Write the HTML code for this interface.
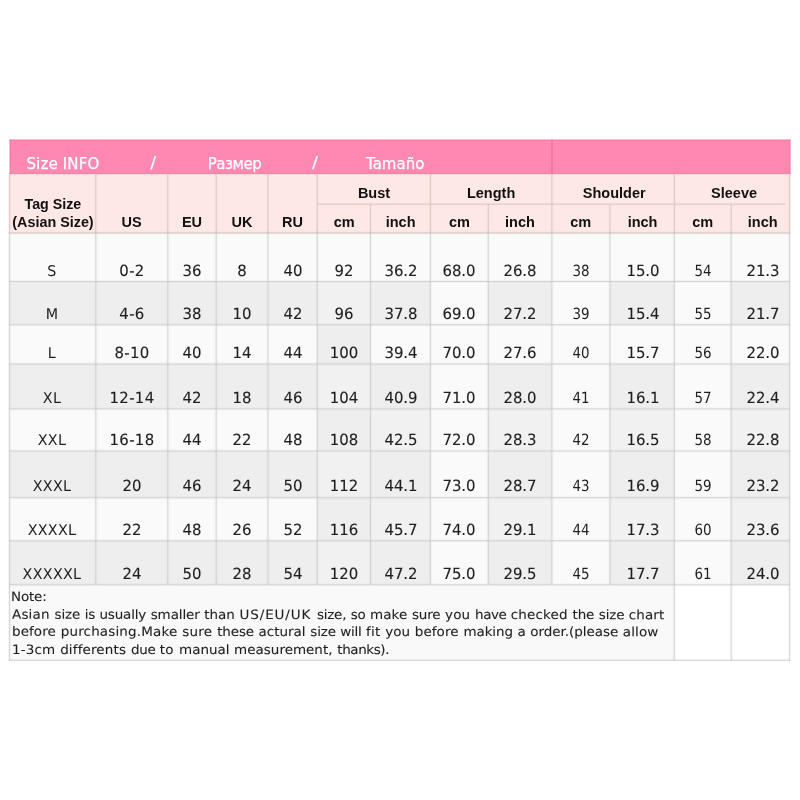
<!DOCTYPE html>
<html lang="en"><head><meta charset="utf-8"><title>Size INFO</title><style>
html,body{margin:0;padding:0;background:#fff}
#p{position:relative;width:800px;height:800px;overflow:hidden;background:#fff}
#g{position:absolute;left:0;top:0;width:800px;height:800px;display:block}
.t{position:absolute;margin-top:-0.346em;transform-origin:50% 0.346em;width:200px;text-align:center;white-space:nowrap;line-height:0;height:0;color:#222}
.t.l{width:auto;text-align:left;white-space:pre}
.h{font-family:"Liberation Sans",sans-serif;font-weight:bold;font-size:14.5px;color:#111}
.d{font-family:"DejaVu Sans","Liberation Sans",sans-serif;font-size:14.9px;color:#1e1e1e;-webkit-text-stroke:0.12px #1e1e1e;transform:rotate(0.03deg) scaleY(1.035)}
.d0{font-size:14.3px;letter-spacing:0.3px;-webkit-text-stroke:0}
.dc{font-family:"DejaVu Sans Condensed","DejaVu Sans","Liberation Sans",sans-serif;font-stretch:condensed;-webkit-text-stroke:0}
.n{font-family:"DejaVu Sans","Liberation Sans",sans-serif;font-size:13.5px;word-spacing:0.46px;color:#1e1e1e;-webkit-text-stroke:0.1px #1e1e1e;transform:rotate(0.03deg) scaleY(0.95)}
.ti{font-family:"DejaVu Sans","Liberation Sans",sans-serif;font-size:15px;color:#fff;-webkit-text-stroke:0.25px #fff}
</style></head><body><div id="p">
<svg id="g" width="800" height="800" viewBox="0 0 800 800">
<rect x="9.10" y="173.15" width="781.00" height="59.85" fill="#fee8e5"/>
<rect x="9.45" y="139.45" width="781.10" height="34.70" fill="#ff88b2"/>
<rect x="9.10" y="233.00" width="781.00" height="351.80" fill="#f1f1f1"/>
<rect x="9.10" y="584.30" width="665.20" height="76.00" fill="#f9f9f9"/>
<rect x="9.45" y="233.00" width="780.15" height="48.50" fill="#fafafa"/>
<rect x="9.45" y="281.50" width="307.80" height="43.25" fill="#eeeeee"/>
<rect x="317.25" y="281.50" width="53.25" height="43.25" fill="#f1f1f1"/>
<rect x="370.50" y="281.50" width="59.90" height="43.25" fill="#eeeeee"/>
<rect x="430.40" y="281.50" width="57.85" height="43.25" fill="#fafafa"/>
<rect x="488.25" y="281.50" width="63.65" height="43.25" fill="#eeeeee"/>
<rect x="551.90" y="281.50" width="58.00" height="43.25" fill="#fafafa"/>
<rect x="609.90" y="281.50" width="64.40" height="43.25" fill="#eeeeee"/>
<rect x="674.30" y="281.50" width="56.90" height="43.25" fill="#fafafa"/>
<rect x="731.20" y="281.50" width="58.40" height="43.25" fill="#eeeeee"/>
<rect x="9.45" y="324.75" width="307.80" height="39.30" fill="#fafafa"/>
<rect x="317.25" y="324.75" width="53.25" height="39.30" fill="#eeeeee"/>
<rect x="370.50" y="324.75" width="419.10" height="39.30" fill="#fafafa"/>
<rect x="9.45" y="364.05" width="307.80" height="44.85" fill="#eeeeee"/>
<rect x="317.25" y="364.05" width="53.25" height="44.85" fill="#f1f1f1"/>
<rect x="370.50" y="364.05" width="59.90" height="44.85" fill="#eeeeee"/>
<rect x="430.40" y="364.05" width="57.85" height="44.85" fill="#fafafa"/>
<rect x="488.25" y="364.05" width="63.65" height="44.85" fill="#eeeeee"/>
<rect x="551.90" y="364.05" width="58.00" height="44.85" fill="#fafafa"/>
<rect x="609.90" y="364.05" width="64.40" height="44.85" fill="#eeeeee"/>
<rect x="674.30" y="364.05" width="56.90" height="44.85" fill="#fafafa"/>
<rect x="731.20" y="364.05" width="58.40" height="44.85" fill="#eeeeee"/>
<rect x="9.45" y="408.90" width="307.80" height="42.10" fill="#fafafa"/>
<rect x="317.25" y="408.90" width="53.25" height="42.10" fill="#eeeeee"/>
<rect x="370.50" y="408.90" width="59.90" height="42.10" fill="#f1f1f1"/>
<rect x="430.40" y="408.90" width="57.85" height="42.10" fill="#fafafa"/>
<rect x="488.25" y="408.90" width="63.65" height="42.10" fill="#f1f1f1"/>
<rect x="551.90" y="408.90" width="58.00" height="42.10" fill="#fafafa"/>
<rect x="609.90" y="408.90" width="64.40" height="42.10" fill="#f1f1f1"/>
<rect x="674.30" y="408.90" width="56.90" height="42.10" fill="#fafafa"/>
<rect x="731.20" y="408.90" width="58.40" height="42.10" fill="#f1f1f1"/>
<rect x="9.45" y="451.00" width="307.80" height="46.70" fill="#eeeeee"/>
<rect x="317.25" y="451.00" width="53.25" height="46.70" fill="#f1f1f1"/>
<rect x="370.50" y="451.00" width="59.90" height="46.70" fill="#eeeeee"/>
<rect x="430.40" y="451.00" width="57.85" height="46.70" fill="#fafafa"/>
<rect x="488.25" y="451.00" width="63.65" height="46.70" fill="#eeeeee"/>
<rect x="551.90" y="451.00" width="58.00" height="46.70" fill="#fafafa"/>
<rect x="609.90" y="451.00" width="64.40" height="46.70" fill="#eeeeee"/>
<rect x="674.30" y="451.00" width="56.90" height="46.70" fill="#fafafa"/>
<rect x="731.20" y="451.00" width="58.40" height="46.70" fill="#eeeeee"/>
<rect x="9.45" y="497.70" width="307.80" height="43.05" fill="#fafafa"/>
<rect x="317.25" y="497.70" width="53.25" height="43.05" fill="#eeeeee"/>
<rect x="370.50" y="497.70" width="59.90" height="43.05" fill="#f1f1f1"/>
<rect x="430.40" y="497.70" width="57.85" height="43.05" fill="#fafafa"/>
<rect x="488.25" y="497.70" width="63.65" height="43.05" fill="#f1f1f1"/>
<rect x="551.90" y="497.70" width="58.00" height="43.05" fill="#fafafa"/>
<rect x="609.90" y="497.70" width="64.40" height="43.05" fill="#f1f1f1"/>
<rect x="674.30" y="497.70" width="56.90" height="43.05" fill="#fafafa"/>
<rect x="731.20" y="497.70" width="58.40" height="43.05" fill="#f1f1f1"/>
<rect x="9.45" y="540.75" width="307.80" height="44.05" fill="#eeeeee"/>
<rect x="317.25" y="540.75" width="53.25" height="44.05" fill="#f1f1f1"/>
<rect x="370.50" y="540.75" width="59.90" height="44.05" fill="#eeeeee"/>
<rect x="430.40" y="540.75" width="57.85" height="44.05" fill="#fafafa"/>
<rect x="488.25" y="540.75" width="63.65" height="44.05" fill="#eeeeee"/>
<rect x="551.90" y="540.75" width="58.00" height="44.05" fill="#fafafa"/>
<rect x="609.90" y="540.75" width="64.40" height="44.05" fill="#eeeeee"/>
<rect x="674.30" y="540.75" width="56.90" height="44.05" fill="#fafafa"/>
<rect x="731.20" y="540.75" width="58.40" height="44.05" fill="#eeeeee"/>
<rect x="94.30" y="174.15" width="3.00" height="58.85" fill="#d4bfbb" fill-opacity="0.12"/>
<rect x="95.30" y="174.15" width="1.00" height="58.85" fill="#d4bfbb" fill-opacity="0.73"/>
<rect x="166.30" y="174.15" width="3.00" height="58.85" fill="#d4bfbb" fill-opacity="0.12"/>
<rect x="167.30" y="174.15" width="1.00" height="58.85" fill="#d4bfbb" fill-opacity="0.73"/>
<rect x="214.70" y="174.15" width="3.00" height="58.85" fill="#d4bfbb" fill-opacity="0.12"/>
<rect x="215.70" y="174.15" width="1.00" height="58.85" fill="#d4bfbb" fill-opacity="0.73"/>
<rect x="266.40" y="174.15" width="3.00" height="58.85" fill="#d4bfbb" fill-opacity="0.12"/>
<rect x="267.40" y="174.15" width="1.00" height="58.85" fill="#d4bfbb" fill-opacity="0.73"/>
<rect x="315.75" y="174.15" width="3.00" height="58.85" fill="#d4bfbb" fill-opacity="0.12"/>
<rect x="316.75" y="174.15" width="1.00" height="58.85" fill="#d4bfbb" fill-opacity="0.73"/>
<rect x="369.00" y="204.20" width="3.00" height="28.80" fill="#d4bfbb" fill-opacity="0.12"/>
<rect x="370.00" y="204.20" width="1.00" height="28.80" fill="#d4bfbb" fill-opacity="0.73"/>
<rect x="428.90" y="174.15" width="3.00" height="58.85" fill="#d4bfbb" fill-opacity="0.12"/>
<rect x="429.90" y="174.15" width="1.00" height="58.85" fill="#d4bfbb" fill-opacity="0.73"/>
<rect x="486.75" y="204.20" width="3.00" height="28.80" fill="#d4bfbb" fill-opacity="0.12"/>
<rect x="487.75" y="204.20" width="1.00" height="28.80" fill="#d4bfbb" fill-opacity="0.73"/>
<rect x="550.40" y="174.15" width="3.00" height="58.85" fill="#d4bfbb" fill-opacity="0.12"/>
<rect x="551.40" y="174.15" width="1.00" height="58.85" fill="#d4bfbb" fill-opacity="0.73"/>
<rect x="608.40" y="204.20" width="3.00" height="28.80" fill="#d4bfbb" fill-opacity="0.12"/>
<rect x="609.40" y="204.20" width="1.00" height="28.80" fill="#d4bfbb" fill-opacity="0.73"/>
<rect x="672.80" y="174.15" width="3.00" height="58.85" fill="#d4bfbb" fill-opacity="0.12"/>
<rect x="673.80" y="174.15" width="1.00" height="58.85" fill="#d4bfbb" fill-opacity="0.73"/>
<rect x="729.70" y="204.20" width="3.00" height="28.80" fill="#d4bfbb" fill-opacity="0.12"/>
<rect x="730.70" y="204.20" width="1.00" height="28.80" fill="#d4bfbb" fill-opacity="0.73"/>
<rect x="317.25" y="202.70" width="468.25" height="3.00" fill="#d4bfbb" fill-opacity="0.12"/>
<rect x="317.25" y="203.70" width="468.25" height="1.00" fill="#d4bfbb" fill-opacity="0.73"/>
<rect x="551.50" y="139.45" width="1.00" height="34.70" fill="#d96894"/>
<rect x="9.45" y="140.00" width="781.10" height="1.00" fill="#ff78a8"/>
<rect x="10.00" y="139.45" width="1.00" height="34.70" fill="#ff78a8"/>
<rect x="789.10" y="139.45" width="1.00" height="34.70" fill="#ff78a8"/>
<rect x="9.45" y="172.90" width="781.10" height="1.00" fill="#e58aa6"/>
<rect x="7.95" y="174.15" width="3.00" height="58.85" fill="#d4bfbb" fill-opacity="0.12"/>
<rect x="8.95" y="174.15" width="1.00" height="58.85" fill="#d4bfbb" fill-opacity="0.73"/>
<rect x="788.10" y="174.15" width="3.00" height="58.85" fill="#d4bfbb" fill-opacity="0.12"/>
<rect x="789.10" y="174.15" width="1.00" height="58.85" fill="#d4bfbb" fill-opacity="0.73"/>
<rect x="7.95" y="233.00" width="3.00" height="351.80" fill="#c9c9c9" fill-opacity="0.12"/>
<rect x="8.95" y="233.00" width="1.00" height="351.80" fill="#c9c9c9" fill-opacity="0.73"/>
<rect x="94.30" y="233.00" width="3.00" height="351.80" fill="#c9c9c9" fill-opacity="0.12"/>
<rect x="95.30" y="233.00" width="1.00" height="351.80" fill="#c9c9c9" fill-opacity="0.73"/>
<rect x="166.30" y="233.00" width="3.00" height="351.80" fill="#c9c9c9" fill-opacity="0.12"/>
<rect x="167.30" y="233.00" width="1.00" height="351.80" fill="#c9c9c9" fill-opacity="0.73"/>
<rect x="214.70" y="233.00" width="3.00" height="351.80" fill="#c9c9c9" fill-opacity="0.12"/>
<rect x="215.70" y="233.00" width="1.00" height="351.80" fill="#c9c9c9" fill-opacity="0.73"/>
<rect x="266.40" y="233.00" width="3.00" height="351.80" fill="#c9c9c9" fill-opacity="0.12"/>
<rect x="267.40" y="233.00" width="1.00" height="351.80" fill="#c9c9c9" fill-opacity="0.73"/>
<rect x="315.75" y="233.00" width="3.00" height="351.80" fill="#c9c9c9" fill-opacity="0.12"/>
<rect x="316.75" y="233.00" width="1.00" height="351.80" fill="#c9c9c9" fill-opacity="0.73"/>
<rect x="369.00" y="233.00" width="3.00" height="351.80" fill="#c9c9c9" fill-opacity="0.12"/>
<rect x="370.00" y="233.00" width="1.00" height="351.80" fill="#c9c9c9" fill-opacity="0.73"/>
<rect x="428.90" y="233.00" width="3.00" height="351.80" fill="#c9c9c9" fill-opacity="0.12"/>
<rect x="429.90" y="233.00" width="1.00" height="351.80" fill="#c9c9c9" fill-opacity="0.73"/>
<rect x="486.75" y="233.00" width="3.00" height="351.80" fill="#c9c9c9" fill-opacity="0.12"/>
<rect x="487.75" y="233.00" width="1.00" height="351.80" fill="#c9c9c9" fill-opacity="0.73"/>
<rect x="550.40" y="233.00" width="3.00" height="351.80" fill="#c9c9c9" fill-opacity="0.12"/>
<rect x="551.40" y="233.00" width="1.00" height="351.80" fill="#c9c9c9" fill-opacity="0.73"/>
<rect x="608.40" y="233.00" width="3.00" height="351.80" fill="#c9c9c9" fill-opacity="0.12"/>
<rect x="609.40" y="233.00" width="1.00" height="351.80" fill="#c9c9c9" fill-opacity="0.73"/>
<rect x="672.80" y="233.00" width="3.00" height="351.80" fill="#c9c9c9" fill-opacity="0.12"/>
<rect x="673.80" y="233.00" width="1.00" height="351.80" fill="#c9c9c9" fill-opacity="0.73"/>
<rect x="729.70" y="233.00" width="3.00" height="351.80" fill="#c9c9c9" fill-opacity="0.12"/>
<rect x="730.70" y="233.00" width="1.00" height="351.80" fill="#c9c9c9" fill-opacity="0.73"/>
<rect x="788.10" y="233.00" width="3.00" height="351.80" fill="#c9c9c9" fill-opacity="0.12"/>
<rect x="789.10" y="233.00" width="1.00" height="351.80" fill="#c9c9c9" fill-opacity="0.73"/>
<rect x="8.95" y="280.00" width="781.15" height="3.00" fill="#c9c9c9" fill-opacity="0.12"/>
<rect x="8.95" y="281.00" width="781.15" height="1.00" fill="#c9c9c9" fill-opacity="0.73"/>
<rect x="8.95" y="323.25" width="781.15" height="3.00" fill="#c9c9c9" fill-opacity="0.12"/>
<rect x="8.95" y="324.25" width="781.15" height="1.00" fill="#c9c9c9" fill-opacity="0.73"/>
<rect x="8.95" y="362.55" width="781.15" height="3.00" fill="#c9c9c9" fill-opacity="0.12"/>
<rect x="8.95" y="363.55" width="781.15" height="1.00" fill="#c9c9c9" fill-opacity="0.73"/>
<rect x="8.95" y="407.40" width="781.15" height="3.00" fill="#c9c9c9" fill-opacity="0.12"/>
<rect x="8.95" y="408.40" width="781.15" height="1.00" fill="#c9c9c9" fill-opacity="0.73"/>
<rect x="8.95" y="449.50" width="781.15" height="3.00" fill="#c9c9c9" fill-opacity="0.12"/>
<rect x="8.95" y="450.50" width="781.15" height="1.00" fill="#c9c9c9" fill-opacity="0.73"/>
<rect x="8.95" y="496.20" width="781.15" height="3.00" fill="#c9c9c9" fill-opacity="0.12"/>
<rect x="8.95" y="497.20" width="781.15" height="1.00" fill="#c9c9c9" fill-opacity="0.73"/>
<rect x="8.95" y="539.25" width="781.15" height="3.00" fill="#c9c9c9" fill-opacity="0.12"/>
<rect x="8.95" y="540.25" width="781.15" height="1.00" fill="#c9c9c9" fill-opacity="0.73"/>
<rect x="8.95" y="583.30" width="781.15" height="3.00" fill="#c9c9c9" fill-opacity="0.12"/>
<rect x="8.95" y="584.30" width="781.15" height="1.00" fill="#c9c9c9" fill-opacity="0.73"/>
<rect x="8.95" y="231.50" width="781.15" height="3.00" fill="#c4b5b3" fill-opacity="0.12"/>
<rect x="8.95" y="232.50" width="781.15" height="1.00" fill="#c4b5b3" fill-opacity="0.73"/>
<rect x="7.95" y="584.80" width="3.00" height="76.00" fill="#c9c9c9" fill-opacity="0.12"/>
<rect x="8.95" y="584.80" width="1.00" height="76.00" fill="#c9c9c9" fill-opacity="0.73"/>
<rect x="672.80" y="584.80" width="3.00" height="76.00" fill="#c9c9c9" fill-opacity="0.12"/>
<rect x="673.80" y="584.80" width="1.00" height="76.00" fill="#c9c9c9" fill-opacity="0.73"/>
<rect x="729.70" y="584.80" width="3.00" height="76.00" fill="#c9c9c9" fill-opacity="0.12"/>
<rect x="730.70" y="584.80" width="1.00" height="76.00" fill="#c9c9c9" fill-opacity="0.73"/>
<rect x="788.10" y="584.80" width="3.00" height="76.00" fill="#c9c9c9" fill-opacity="0.12"/>
<rect x="789.10" y="584.80" width="1.00" height="76.00" fill="#c9c9c9" fill-opacity="0.73"/>
<rect x="8.95" y="658.80" width="781.15" height="3.00" fill="#c9c9c9" fill-opacity="0.12"/>
<rect x="8.95" y="659.80" width="781.15" height="1.00" fill="#c9c9c9" fill-opacity="0.73"/>
</svg>
<div class="t l ti" style="left:26.40px;top:168.70px;letter-spacing:0.15px">Size INFO</div>
<div class="t l ti" style="left:150.60px;top:168.90px;font-size:16.5px">/</div>
<div class="t l ti" style="left:207.70px;top:168.70px;letter-spacing:-0.45px">Размер</div>
<div class="t l ti" style="left:312.20px;top:168.90px;font-size:16.5px">/</div>
<div class="t l ti" style="left:366.00px;top:168.70px;">Tamaño</div>
<div class="t h" style="left:-47.10px;top:209.10px;font-size:14.25px">Tag Size</div>
<div class="t h" style="left:-47.00px;top:226.70px;font-size:14.35px">(Asian Size)</div>
<div class="t h" style="left:31.50px;top:226.70px;">US</div>
<div class="t h" style="left:92.00px;top:226.70px;">EU</div>
<div class="t h" style="left:142.00px;top:226.70px;">UK</div>
<div class="t h" style="left:192.50px;top:226.70px;">RU</div>
<div class="t h" style="left:274.00px;top:197.80px;">Bust</div>
<div class="t h" style="left:391.12px;top:197.80px;">Length</div>
<div class="t h" style="left:514.20px;top:197.80px;">Shoulder</div>
<div class="t h" style="left:634.08px;top:197.80px;">Sleeve</div>
<div class="t h" style="left:244.12px;top:226.70px;">cm</div>
<div class="t h" style="left:300.62px;top:226.70px;">inch</div>
<div class="t h" style="left:359.38px;top:226.70px;">cm</div>
<div class="t h" style="left:420.00px;top:226.70px;">inch</div>
<div class="t h" style="left:480.62px;top:226.70px;">cm</div>
<div class="t h" style="left:542.58px;top:226.70px;">inch</div>
<div class="t h" style="left:602.75px;top:226.70px;">cm</div>
<div class="t h" style="left:662.67px;top:226.70px;">inch</div>
<div class="t d d0" style="left:-48.30px;top:276.00px;">S</div>
<div class="t d" style="left:31.80px;top:276.40px;letter-spacing:0.35px">0-2</div>
<div class="t d" style="left:92.00px;top:276.40px;">36</div>
<div class="t d" style="left:142.00px;top:276.40px;">8</div>
<div class="t d" style="left:192.50px;top:276.40px;">40</div>
<div class="t d" style="left:244.12px;top:276.40px;">92</div>
<div class="t d" style="left:300.62px;top:276.40px;">36.2</div>
<div class="t d" style="left:359.38px;top:276.40px;">68.0</div>
<div class="t d" style="left:420.00px;top:276.40px;">26.8</div>
<div class="t d dc" style="left:480.62px;top:276.40px;">38</div>
<div class="t d" style="left:542.58px;top:276.40px;">15.0</div>
<div class="t d dc" style="left:602.75px;top:276.40px;">54</div>
<div class="t d" style="left:662.67px;top:276.40px;">21.3</div>
<div class="t d d0" style="left:-48.30px;top:318.90px;">M</div>
<div class="t d" style="left:31.80px;top:319.30px;letter-spacing:0.35px">4-6</div>
<div class="t d" style="left:92.00px;top:319.30px;">38</div>
<div class="t d" style="left:142.00px;top:319.30px;">10</div>
<div class="t d" style="left:192.50px;top:319.30px;">42</div>
<div class="t d" style="left:244.12px;top:319.30px;">96</div>
<div class="t d" style="left:300.62px;top:319.30px;">37.8</div>
<div class="t d" style="left:359.38px;top:319.30px;">69.0</div>
<div class="t d" style="left:420.00px;top:319.30px;">27.2</div>
<div class="t d dc" style="left:480.62px;top:319.30px;">39</div>
<div class="t d" style="left:542.58px;top:319.30px;">15.4</div>
<div class="t d dc" style="left:602.75px;top:319.30px;">55</div>
<div class="t d" style="left:662.67px;top:319.30px;">21.7</div>
<div class="t d d0" style="left:-48.30px;top:358.20px;">L</div>
<div class="t d" style="left:31.80px;top:358.60px;letter-spacing:0.35px">8-10</div>
<div class="t d" style="left:92.00px;top:358.60px;">40</div>
<div class="t d" style="left:142.00px;top:358.60px;">14</div>
<div class="t d" style="left:192.50px;top:358.60px;">44</div>
<div class="t d" style="left:244.12px;top:358.60px;">100</div>
<div class="t d" style="left:300.62px;top:358.60px;">39.4</div>
<div class="t d" style="left:359.38px;top:358.60px;">70.0</div>
<div class="t d" style="left:420.00px;top:358.60px;">27.6</div>
<div class="t d dc" style="left:480.62px;top:358.60px;">40</div>
<div class="t d" style="left:542.58px;top:358.60px;">15.7</div>
<div class="t d dc" style="left:602.75px;top:358.60px;">56</div>
<div class="t d" style="left:662.67px;top:358.60px;">22.0</div>
<div class="t d d0" style="left:-48.30px;top:403.20px;">XL</div>
<div class="t d" style="left:31.80px;top:403.60px;letter-spacing:0.35px">12-14</div>
<div class="t d" style="left:92.00px;top:403.60px;">42</div>
<div class="t d" style="left:142.00px;top:403.60px;">18</div>
<div class="t d" style="left:192.50px;top:403.60px;">46</div>
<div class="t d" style="left:244.12px;top:403.60px;">104</div>
<div class="t d" style="left:300.62px;top:403.60px;">40.9</div>
<div class="t d" style="left:359.38px;top:403.60px;">71.0</div>
<div class="t d" style="left:420.00px;top:403.60px;">28.0</div>
<div class="t d dc" style="left:480.62px;top:403.60px;">41</div>
<div class="t d" style="left:542.58px;top:403.60px;">16.1</div>
<div class="t d dc" style="left:602.75px;top:403.60px;">57</div>
<div class="t d" style="left:662.67px;top:403.60px;">22.4</div>
<div class="t d d0" style="left:-48.30px;top:444.90px;">XXL</div>
<div class="t d" style="left:31.80px;top:445.30px;letter-spacing:0.35px">16-18</div>
<div class="t d" style="left:92.00px;top:445.30px;">44</div>
<div class="t d" style="left:142.00px;top:445.30px;">22</div>
<div class="t d" style="left:192.50px;top:445.30px;">48</div>
<div class="t d" style="left:244.12px;top:445.30px;">108</div>
<div class="t d" style="left:300.62px;top:445.30px;">42.5</div>
<div class="t d" style="left:359.38px;top:445.30px;">72.0</div>
<div class="t d" style="left:420.00px;top:445.30px;">28.3</div>
<div class="t d dc" style="left:480.62px;top:445.30px;">42</div>
<div class="t d" style="left:542.58px;top:445.30px;">16.5</div>
<div class="t d dc" style="left:602.75px;top:445.30px;">58</div>
<div class="t d" style="left:662.67px;top:445.30px;">22.8</div>
<div class="t d d0" style="left:-48.30px;top:490.80px;">XXXL</div>
<div class="t d" style="left:31.50px;top:491.20px;">20</div>
<div class="t d" style="left:92.00px;top:491.20px;">46</div>
<div class="t d" style="left:142.00px;top:491.20px;">24</div>
<div class="t d" style="left:192.50px;top:491.20px;">50</div>
<div class="t d" style="left:244.12px;top:491.20px;">112</div>
<div class="t d" style="left:300.62px;top:491.20px;">44.1</div>
<div class="t d" style="left:359.38px;top:491.20px;">73.0</div>
<div class="t d" style="left:420.00px;top:491.20px;">28.7</div>
<div class="t d dc" style="left:480.62px;top:491.20px;">43</div>
<div class="t d" style="left:542.58px;top:491.20px;">16.9</div>
<div class="t d dc" style="left:602.75px;top:491.20px;">59</div>
<div class="t d" style="left:662.67px;top:491.20px;">23.2</div>
<div class="t d d0" style="left:-48.30px;top:534.70px;">XXXXL</div>
<div class="t d" style="left:31.50px;top:535.10px;">22</div>
<div class="t d" style="left:92.00px;top:535.10px;">48</div>
<div class="t d" style="left:142.00px;top:535.10px;">26</div>
<div class="t d" style="left:192.50px;top:535.10px;">52</div>
<div class="t d" style="left:244.12px;top:535.10px;">116</div>
<div class="t d" style="left:300.62px;top:535.10px;">45.7</div>
<div class="t d" style="left:359.38px;top:535.10px;">74.0</div>
<div class="t d" style="left:420.00px;top:535.10px;">29.1</div>
<div class="t d dc" style="left:480.62px;top:535.10px;">44</div>
<div class="t d" style="left:542.58px;top:535.10px;">17.3</div>
<div class="t d dc" style="left:602.75px;top:535.10px;">60</div>
<div class="t d" style="left:662.67px;top:535.10px;">23.6</div>
<div class="t d d0" style="left:-48.30px;top:578.50px;">XXXXXL</div>
<div class="t d" style="left:31.50px;top:578.90px;">24</div>
<div class="t d" style="left:92.00px;top:578.90px;">50</div>
<div class="t d" style="left:142.00px;top:578.90px;">28</div>
<div class="t d" style="left:192.50px;top:578.90px;">54</div>
<div class="t d" style="left:244.12px;top:578.90px;">120</div>
<div class="t d" style="left:300.62px;top:578.90px;">47.2</div>
<div class="t d" style="left:359.38px;top:578.90px;">75.0</div>
<div class="t d" style="left:420.00px;top:578.90px;">29.5</div>
<div class="t d dc" style="left:480.62px;top:578.90px;">45</div>
<div class="t d" style="left:542.58px;top:578.90px;">17.7</div>
<div class="t d dc" style="left:602.75px;top:578.90px;">61</div>
<div class="t d" style="left:662.67px;top:578.90px;">24.0</div>
<div class="t l n" style="left:11.40px;top:600.60px;"><span style="letter-spacing:-0.183px">Note:</span></div>
<div class="t l n" style="left:11.80px;top:618.40px;"><span style="letter-spacing:0.148px">Asian </span><span style="letter-spacing:-0.117px">size </span><span style="letter-spacing:-0.299px">is </span><span style="letter-spacing:-0.184px">usually </span><span style="letter-spacing:-0.122px">smaller </span><span style="letter-spacing:-0.047px">than </span><span style="letter-spacing:0.894px">US/EU/UK </span><span style="letter-spacing:-0.253px">size, </span><span style="letter-spacing:-0.216px">so </span><span style="letter-spacing:0.014px">make </span><span style="letter-spacing:-0.161px">sure </span><span style="letter-spacing:0.109px">you </span><span style="letter-spacing:-0.458px">have </span><span style="letter-spacing:0.154px">checked </span><span style="letter-spacing:-0.168px">the </span><span style="letter-spacing:-0.188px">size </span><span style="letter-spacing:0.098px">chart</span></div>
<div class="t l n" style="left:11.60px;top:635.90px;"><span style="letter-spacing:0.078px">before </span><span style="letter-spacing:0.146px">purchasing.Make </span><span style="letter-spacing:0.219px">sure </span><span style="letter-spacing:-0.167px">these </span><span style="letter-spacing:-0.003px">actural </span><span style="letter-spacing:-0.188px">size </span><span style="letter-spacing:-0.279px">will </span><span style="letter-spacing:0.197px">fit </span><span style="letter-spacing:-0.041px">you </span><span style="letter-spacing:0.078px">before </span><span style="letter-spacing:-0.125px">making </span><span style="letter-spacing:-0.091px">a </span><span style="letter-spacing:-0.058px">order.(please </span><span style="letter-spacing:0.104px">allow</span></div>
<div class="t l n" style="left:12.10px;top:653.60px;"><span style="letter-spacing:0.129px">1-3cm </span><span style="letter-spacing:0.139px">differents </span><span style="letter-spacing:-0.372px">due </span><span style="letter-spacing:0.363px">to </span><span style="letter-spacing:-0.045px">manual </span><span style="letter-spacing:-0.010px">measurement, </span><span style="letter-spacing:-0.399px">thanks).</span></div>
</div></body></html>
